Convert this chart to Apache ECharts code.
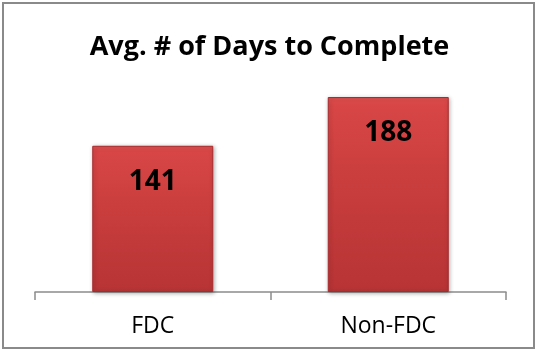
<!DOCTYPE html>
<html><head><meta charset="utf-8">
<script src="https://cdn.jsdelivr.net/npm/echarts@6/dist/echarts.min.js"></script>
<style>html,body{margin:0;padding:0;background:#fff}#c{width:539px;height:352px}</style>
</head><body><div id="c"></div>
<script>
const categories = ['FDC', 'Non-FDC'];
const values = [141, 188];
const titleText = 'Avg. # of Days to Complete';

const chart = echarts.init(document.getElementById('c'));
chart.setOption({
  animation: false,
  backgroundColor: '#fff',
  title: {
    text: titleText, left: 'center', top: 29,
    textStyle: { fontFamily: 'Open Sans', fontWeight: 'bold', fontSize: 27, color: '#000' }
  },
  graphic: [{
    type: 'rect', shape: { x: 3, y: 3, width: 531, height: 345 },
    style: { fill: 'none', stroke: '#8a8a8a', lineWidth: 2 }, z: 100
  }],
  grid: { left: 35, right: 33, top: 84.6, bottom: 60, containLabel: false },
  xAxis: {
    type: 'category', data: categories,
    axisLine: { show: true, lineStyle: { color: '#8c8c8c', width: 1.5 } },
    axisTick: { show: true, interval: 0, alignWithLabel: false, length: 8, lineStyle: { color: '#8c8c8c', width: 1.5 } },
    axisLabel: { fontFamily: 'Open Sans', fontSize: 23, color: '#000', margin: 23 }
  },
  yAxis: { type: 'value', min: 0, max: 200, show: false, splitLine: { show: false } },
  series: [{
    type: 'bar', data: values, barWidth: 121,
    itemStyle: {
      color: new echarts.graphic.LinearGradient(0, 0, 0, 1, [
        { offset: 0, color: '#e25050' },
        { offset: 0.04, color: '#d84646' },
        { offset: 0.5, color: '#c73c3c' },
        { offset: 1, color: '#b73435' }
      ]),
      borderColor: '#a82a2c', borderWidth: 1,
      shadowColor: 'rgba(0,0,0,0.3)', shadowBlur: 4, shadowOffsetX: 1, shadowOffsetY: 1
    },
    label: {
      show: true, position: 'insideTop', distance: 22,
      fontFamily: 'Open Sans', fontWeight: 'bold', fontSize: 28, color: '#000'
    }
  }]
});
</script></body></html>
